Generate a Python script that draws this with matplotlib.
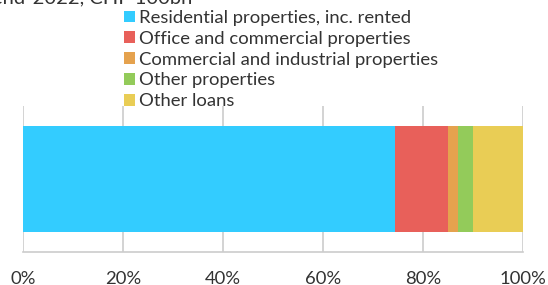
import matplotlib
matplotlib.use("Agg")
import matplotlib.pyplot as plt
from matplotlib.ticker import FuncFormatter

plt.rcParams['font.family'] = ['Lato', 'DejaVu Sans']

categories = ["Residential properties, inc. rented",
              "Office and commercial properties",
              "Commercial and industrial properties",
              "Other properties",
              "Other loans"]
shares = [74.4, 10.6, 2.0, 3.0, 10.0]
colors = ["#33ccff", "#e8605a", "#e5a24e", "#93cb5a", "#e9cd55"]
ticks = [0, 20, 40, 60, 80, 100]
title = "end-2022, CHF 100bn"

W, H = 548, 285
fig = plt.figure(figsize=(W / 100, H / 100), dpi=100)
ax = fig.add_axes([23 / W, 1 - 252.3 / H, 500 / W, 146.3 / H])

left = 0
for name, val, col in zip(categories, shares, colors):
    ax.barh(0, val, left=left, height=0.725, color=col, label=name, zorder=2)
    left += val

ax.set_xlim(0, 100)
ax.set_ylim(-0.5, 0.5)
ax.set_yticks([])
ax.set_xticks(ticks)
ax.xaxis.set_major_formatter(FuncFormatter(lambda v, p: f"{v:.0f}%"))
ax.tick_params(axis='x', length=0, pad=13.2, labelsize=13.3, labelcolor="#333333")
ax.grid(axis='x', color="#cccccc", linewidth=1.2, zorder=0)
for s in ['top', 'right', 'left']:
    ax.spines[s].set_visible(False)
ax.spines['bottom'].set_color("#cccccc")
ax.spines['bottom'].set_linewidth(1.2)

# title sits mostly above the visible area, as in the reference crop
fig.text(192 / W, 1 - 3.5 / H, title, fontsize=14.5, color="#333333",
         va='baseline', ha='right')

leg = fig.legend(loc='upper left', bbox_to_anchor=(124 / W, 1 - 10 / H),
                 frameon=False, fontsize=13.3, handlelength=0.6, handleheight=0.6,
                 handletextpad=0.22, labelspacing=0.26, borderpad=0, borderaxespad=0)
for t in leg.get_texts():
    t.set_color("#333333")

fig.savefig("out.png", dpi=100)
